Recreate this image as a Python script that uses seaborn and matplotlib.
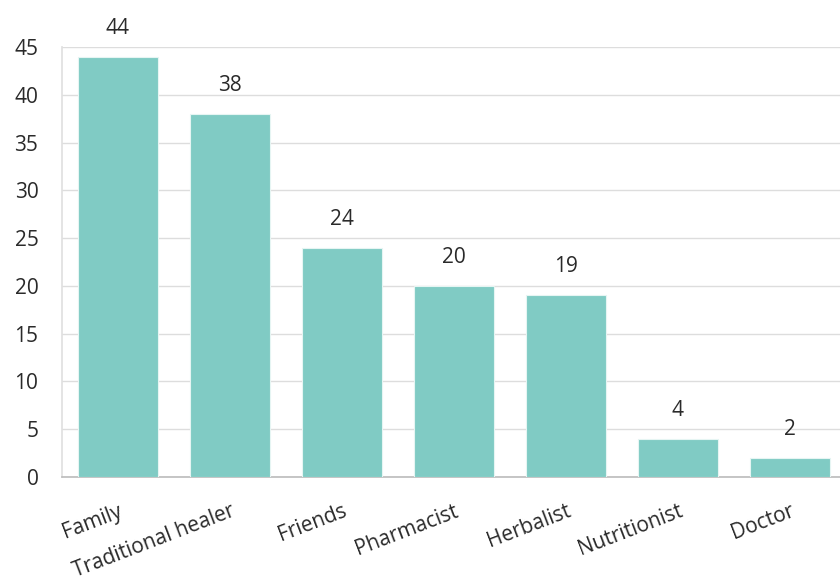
import matplotlib
matplotlib.use("Agg")
import matplotlib.pyplot as plt
import seaborn as sns
import pandas as pd

categories = ["Family", "Traditional healer", "Friends", "Pharmacist", "Herbalist", "Nutritionist", "Doctor"]
values = [44, 38, 24, 20, 19, 4, 2]
yticks = [0, 5, 10, 15, 20, 25, 30, 35, 40, 45]

df = pd.DataFrame({"cat": categories, "val": values})

sns.set_theme(style="white")
plt.rcParams["font.family"] = ["Open Sans", "DejaVu Sans"]

fig = plt.figure(figsize=(8.4, 5.85), dpi=100)
ax = fig.add_axes([62/840, (585-477)/585, (846-62)/840, (477-47)/585])

sns.barplot(data=df, x="cat", y="val", ax=ax, color="#80CBC4", saturation=1,
            width=0.714, edgecolor="#e6f5f3", linewidth=0.8, zorder=3)

FS = 15
ax.set_xlim(-0.5, 6.5)
ax.set_ylim(0, 45)
ax.set_yticks(yticks)
ax.set_yticklabels([str(t) for t in yticks], fontsize=FS, color="#2a2a2a")
ax.yaxis.grid(True, color="#dddddd", linewidth=1, zorder=0)
ax.set_axisbelow(True)
ax.tick_params(axis="y", length=15, color="#dddddd", width=1, pad=2)
ax.tick_params(axis="x", length=0, pad=17)
ax.set_xlabel("")
ax.set_ylabel("")
for lbl in ax.get_xticklabels():
    lbl.set_rotation(21)
    lbl.set_ha("right")
    lbl.set_rotation_mode("anchor")
    lbl.set_fontsize(FS)
    lbl.set_color("#2a2a2a")

for s in ["top", "right"]:
    ax.spines[s].set_visible(False)
ax.spines["left"].set_color("#e0e0e0")
ax.spines["bottom"].set_color("#bbbbbb")
ax.spines["bottom"].set_linewidth(1.2)

for i, v in enumerate(values):
    ax.annotate(str(v), (i, v), xytext=(0, 13), textcoords="offset points",
                ha="center", va="bottom", fontsize=FS, color="#2a2a2a",
                annotation_clip=False)

fig.savefig("out.png", dpi=100)
